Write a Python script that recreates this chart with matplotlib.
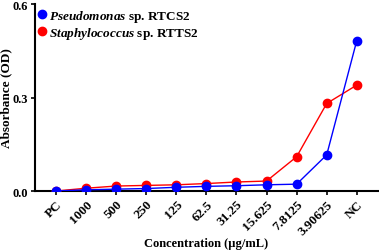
import matplotlib.pyplot as plt

plt.rcParams['font.family'] = ['Liberation Serif', 'DejaVu Serif']
plt.rcParams['font.weight'] = 'bold'
plt.rcParams['mathtext.fontset'] = 'custom'
plt.rcParams['mathtext.it'] = 'Liberation Serif:italic:bold'
plt.rcParams['mathtext.rm'] = 'Liberation Serif:bold'

# concentrations tested (ug/mL) plus controls
labels = ["PC", "1000", "500", "250", "125", "62.5", "31.25", "15.625", "7.8125", "3.90625", "NC"]

# absorbance
pseudomonas = [0.0, 0.004, 0.006, 0.008, 0.012, 0.015, 0.017, 0.020, 0.022, 0.116, 0.483]
staphylococcus = [0.0, 0.009, 0.016, 0.018, 0.020, 0.024, 0.029, 0.032, 0.110, 0.281, 0.340]

x = list(range(len(labels)))

fig = plt.figure(figsize=(3.79, 2.53), dpi=100)
ax = fig.add_axes([0.092, 0.241, 0.905, 0.739])

ax.plot(x, staphylococcus, color="#ff0000", marker="o", markersize=6, linewidth=1,
        label=r"$Staphylococcus$ sp. RTTS2", zorder=3)
ax.plot(x, pseudomonas, color="#0000ff", marker="o", markersize=6, linewidth=1,
        label=r"$Pseudomonas$ sp. RTCS2", zorder=4)

ax.set_xlim(-0.7, 10.7)
ax.set_ylim(0, 0.6)
ax.set_yticks([0.0, 0.3, 0.6])
ax.set_yticklabels(["0.0", "0.3", "0.6"], fontsize=9, fontweight="bold")
ax.set_xticks(x)
ax.set_xticklabels(labels, rotation=45, ha="right", rotation_mode="anchor",
                   fontsize=9.5, fontweight="bold")

for s in ["top", "right"]:
    ax.spines[s].set_visible(False)
for s in ["left", "bottom"]:
    ax.spines[s].set_linewidth(1.5)
ax.tick_params(width=1.2, length=3, pad=2)

ax.set_xlabel("Concentration (\u00b5g/mL)", fontsize=9, fontweight="bold")
ax.set_ylabel("Absorbance (OD)", fontsize=9.5, fontweight="bold")
ax.xaxis.set_label_coords(0.5, -0.278)
ax.yaxis.set_label_coords(-0.083, 0.5)
ax.xaxis.label.set_va("center")
ax.yaxis.label.set_va("center")

handles, lbls = ax.get_legend_handles_labels()
ax.legend(handles[::-1], lbls[::-1], loc="upper left", bbox_to_anchor=(-0.025, 1.045),
          frameon=False, handlelength=0.6, handletextpad=0.25,
          labelspacing=0.1, prop={"weight": "bold", "size": 9.5})
for line in ax.get_legend().get_lines():
    line.set_linestyle("none")

fig.savefig("out.png", dpi=100)
